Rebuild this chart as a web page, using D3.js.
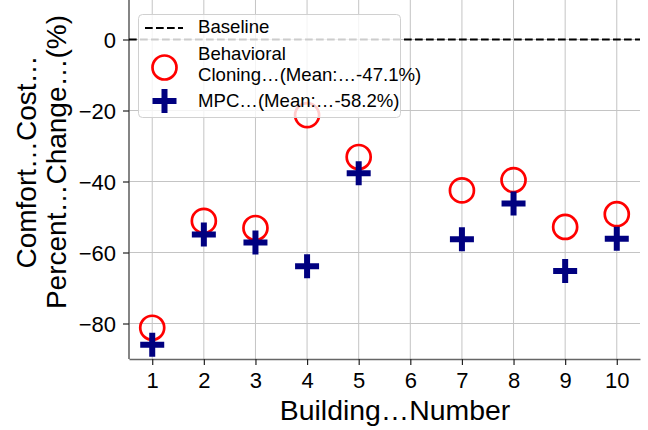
<!DOCTYPE html>
<html>
<head>
<meta charset="utf-8">
<script src="https://cdn.jsdelivr.net/npm/d3@7"></script>
<style>
  html, body { margin: 0; padding: 0; background: #fff; }
  svg { display: block; font-family: "Liberation Sans", Arial, Helvetica, sans-serif; }
</style>
</head>
<body>
<svg id="chart" width="648" height="430"></svg>
<script>
// Building numbers on the x axis
const buildings = [1, 2, 3, 4, 5, 6, 7, 8, 9, 10];
// Comfort cost percent change vs. baseline (%); building 6 has no result
const behavioralCloning = [-81.2, -51.1, -53.1, -21.3, -33.1, null, -42.5, -39.6, -52.8, -49.2];
const mpc = [-86.0, -54.9, -57.2, -63.9, -37.7, null, -56.3, -46.2, -65.2, -56.1];
const yTicks = [-80, -60, -40, -20, 0];
const baselineValue = 0;

const mean = arr => d3.mean(arr.filter(v => v !== null));
const fmtMean = v => v.toFixed(1);

const svg = d3.select("#chart");
const plot = { left: 129, right: 640, top: 4, bottom: 359 };

const x = d3.scaleLinear().domain([0.55, 10.45]).range([plot.left, plot.right]);
const y = d3.scaleLinear().domain([-90, 10]).range([plot.bottom, plot.top]);

// grid
const grid = svg.append("g").attr("stroke", "#c4c4c4").attr("stroke-width", 1);
grid.selectAll("line.gx").data(buildings).join("line")
  .attr("x1", d => x(d)).attr("x2", d => x(d))
  .attr("y1", plot.top - 4).attr("y2", plot.bottom);
grid.selectAll("line.gy").data(yTicks).join("line")
  .attr("x1", plot.left).attr("x2", plot.right)
  .attr("y1", d => y(d)).attr("y2", d => y(d));

// axes
const xAxis = svg.append("g")
  .attr("transform", `translate(0,${plot.bottom})`)
  .call(d3.axisBottom(x).tickValues(buildings).tickFormat(d3.format("d"))
        .tickSize(6).tickPadding(7).tickSizeOuter(0));
const yAxis = svg.append("g")
  .attr("transform", `translate(${plot.left},0)`)
  .call(d3.axisLeft(y).tickValues(yTicks).tickSize(6).tickPadding(7).tickSizeOuter(0));

[xAxis, yAxis].forEach(g => {
  g.select(".domain").attr("stroke", "#666").attr("stroke-width", 1.6);
  g.selectAll(".tick line").attr("stroke", "#222").attr("stroke-width", 1.2);
  g.selectAll(".tick text").attr("font-size", 22).attr("fill", "#000")
    .attr("font-family", '"Liberation Sans", Arial, sans-serif');
});
yAxis.selectAll(".tick text").attr("dy", "0.36em");
// left spine spans the full plot height
yAxis.select(".domain").attr("d", `M0,${plot.top - 4}V${plot.bottom}`);

// dashed baseline at 0
svg.append("line")
  .attr("x1", plot.left).attr("x2", plot.right)
  .attr("y1", y(baselineValue)).attr("y2", y(baselineValue))
  .attr("stroke", "#000").attr("stroke-width", 2)
  .attr("stroke-dasharray", "7.7,3.3");

// marker helpers
const circleR = 12;
const plusHalf = 12;
const plusThick = 6;
const plusPath = (cx, cy) =>
  `M${cx - plusHalf},${cy}H${cx + plusHalf}M${cx},${cy - plusHalf}V${cy + plusHalf}`;

const bcPts = buildings.map((b, i) => ({ b, v: behavioralCloning[i] })).filter(d => d.v !== null);
const mpcPts = buildings.map((b, i) => ({ b, v: mpc[i] })).filter(d => d.v !== null);

svg.append("g").selectAll("circle").data(bcPts).join("circle")
  .attr("cx", d => x(d.b)).attr("cy", d => y(d.v)).attr("r", circleR)
  .attr("fill", "none").attr("stroke", "#ff0000").attr("stroke-width", 2.7);

svg.append("g").selectAll("path").data(mpcPts).join("path")
  .attr("d", d => plusPath(x(d.b), y(d.v)))
  .attr("fill", "none").attr("stroke", "#000080").attr("stroke-width", plusThick);

// legend
const lg = svg.append("g");
lg.append("rect")
  .attr("x", 138.5).attr("y", 14.5).attr("width", 262).attr("height", 103)
  .attr("rx", 4).attr("fill", "#fff").attr("fill-opacity", 0.8)
  .attr("stroke", "#d0d0d0").attr("stroke-width", 1);
lg.append("line")
  .attr("x1", 145).attr("x2", 183).attr("y1", 28).attr("y2", 28)
  .attr("stroke", "#000").attr("stroke-width", 2).attr("stroke-dasharray", "7.7,3.3");
lg.append("circle").attr("cx", 164.5).attr("cy", 67.5).attr("r", circleR)
  .attr("fill", "none").attr("stroke", "#ff0000").attr("stroke-width", 2.7);
lg.append("path").attr("d", plusPath(164.5, 101))
  .attr("fill", "none").attr("stroke", "#000080").attr("stroke-width", plusThick);

const legendText = [
  { t: "Baseline", y: 33.3 },
  { t: "Behavioral", y: 60 },
  { t: `Cloning…(Mean:…-${fmtMean(-mean(behavioralCloning))}%)`, y: 80.5 },
  { t: `MPC…(Mean:…-${fmtMean(-mean(mpc))}%)`, y: 106.7 }
];
lg.selectAll("text").data(legendText).join("text")
  .attr("x", 198).attr("y", d => d.y)
  .attr("font-size", 18.6).attr("fill", "#000")
  .text(d => d.t);

// axis titles
svg.append("text")
  .attr("x", 395).attr("y", 420)
  .attr("text-anchor", "middle").attr("font-size", 28.4).attr("fill", "#000")
  .text("Building…Number");

const yl = svg.append("g").attr("transform", "translate(0,162) rotate(-90)");
yl.append("text").attr("x", 0).attr("y", 36)
  .attr("text-anchor", "middle").attr("font-size", 28).attr("fill", "#000")
  .text("Comfort…Cost…");
yl.append("text").attr("x", 0).attr("y", 65.5)
  .attr("text-anchor", "middle").attr("font-size", 28).attr("fill", "#000")
  .text("Percent…Change…(%)");
</script>
</body>
</html>
